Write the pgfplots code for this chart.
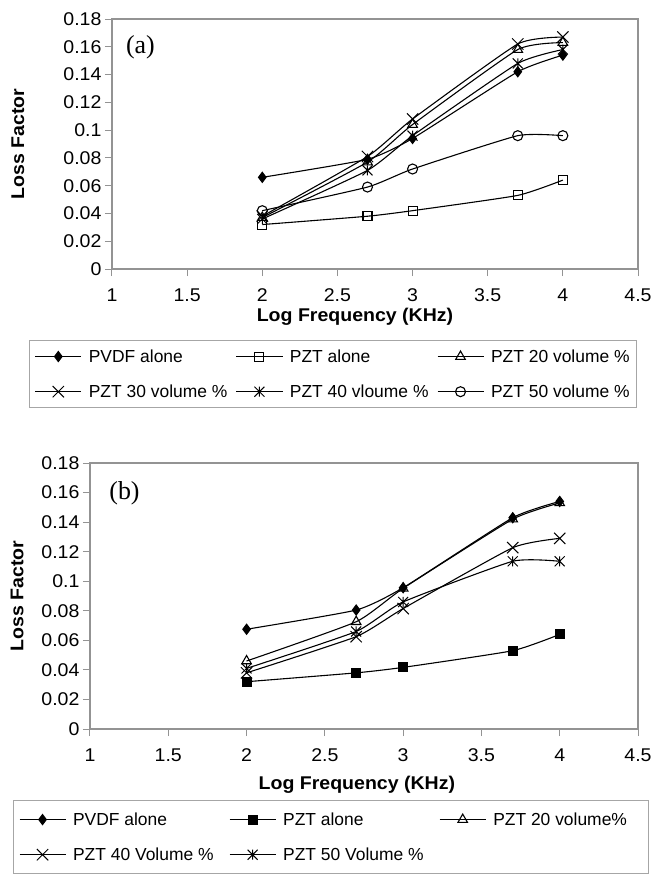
\documentclass[border=0pt]{standalone}
\usepackage{pgfplots}
\pgfplotsset{compat=1.18}
\usepackage{fontspec}
\setmainfont{Liberation Sans}
\newfontfamily\axfont[FakeStretch=1.06]{Liberation Sans}
\newfontfamily\panelfont{Liberation Serif}

\newcommand\tickfont{\axfont\fontsize{18.5}{21}\selectfont}
\newcommand\labfont{\axfont\fontsize{18.5}{21}\selectfont\bfseries}
\newcommand\legfont{\fontsize{17.5}{21}\selectfont}

% Excel style star: an x with a vertical bar
\pgfdeclareplotmark{xstar}{%
  \pgfpathmoveto{\pgfqpoint{-\pgfplotmarksize}{-\pgfplotmarksize}}%
  \pgfpathlineto{\pgfqpoint{\pgfplotmarksize}{\pgfplotmarksize}}%
  \pgfpathmoveto{\pgfqpoint{-\pgfplotmarksize}{\pgfplotmarksize}}%
  \pgfpathlineto{\pgfqpoint{\pgfplotmarksize}{-\pgfplotmarksize}}%
  \pgfpathmoveto{\pgfqpoint{0pt}{-\pgfplotmarksize}}%
  \pgfpathlineto{\pgfqpoint{0pt}{\pgfplotmarksize}}%
  \pgfusepathqstroke}

\pgfplotsset{
  lossaxis/.style={
    scale only axis, xmin=1, xmax=4.5, ymin=0, ymax=0.18,
    xtick={1,1.5,2,2.5,3,3.5,4,4.5},
    ytick={0,0.02,0.04,0.06,0.08,0.1,0.12,0.14,0.16,0.18},
    axis line style={draw=gray!85, line width=1.2bp},
    tick style={draw=gray!85, line width=1bp},
    tick align=outside, major tick length=7bp,
    xtick pos=bottom, ytick pos=left,
    scaled y ticks=false,
    yticklabel style={/pgf/number format/fixed, /pgf/number format/precision=2},
    xticklabel style={yshift=-9bp},
    /pgf/number format/assume math mode=true,
    ticklabel style={font=\tickfont},
    xlabel={Log Frequency (KHz)}, ylabel={Loss Factor},
    every axis plot/.append style={black, line width=1.1bp, smooth, tension=0.3,
      mark size=5bp, mark options={solid, line width=1bp}},
    legend columns=3, legend cell align=left,
    legend image code/.code={\draw[mark repeat=2,mark phase=2,##1]
      plot coordinates {(0bp,0bp) (23bp,0bp) (46bp,0bp)};},
    legend style={draw=gray!70, line width=1bp, font=\legfont,
      nodes={inner sep=2bp},
      /tikz/every odd column/.append style={column sep=5bp},
      /tikz/every even column/.append style={column sep=0bp}},
  }
}

\begin{document}
\begin{tikzpicture}
\useasboundingbox (-112bp,-607bp) rectangle (540bp,269bp);

% ---------- (a)
\begin{axis}[lossaxis, at={(0,0)}, anchor=south west,
  width=526bp, height=250bp,
  every axis y label/.style={at={(axis description cs:-0.179,0.5)}, rotate=90,
    anchor=center, font=\labfont},
  every axis x label/.style={at={(axis description cs:0.462,-0.192)},
    anchor=center, font=\labfont},
  legend style={at={(axis description cs:0.42,-0.284)}, anchor=north,
    row sep=17bp, inner xsep=5bp, inner ysep=7bp}]
\addplot[mark=diamond*, mark options={fill=black}] coordinates
  {(2,0.066) (2.7,0.079) (3,0.094) (3.7,0.142) (4,0.154)};
\addplot[mark=square, mark size=4.5bp, mark options={fill=white}] coordinates
  {(2,0.032) (2.7,0.038) (3,0.042) (3.7,0.053) (4,0.064)};
\addplot[mark=triangle, mark size=5.5bp, mark options={fill=white}] coordinates
  {(2,0.037) (2.7,0.077) (3,0.104) (3.7,0.158) (4,0.163)};
\addplot[mark=x, mark size=8bp] coordinates
  {(2,0.038) (2.7,0.081) (3,0.108) (3.7,0.162) (4,0.167)};
\addplot[mark=xstar, mark size=5bp] coordinates
  {(2,0.036) (2.7,0.071) (3,0.096) (3.7,0.148) (4,0.158)};
\addplot[mark=o, mark options={fill=white}] coordinates
  {(2,0.042) (2.7,0.059) (3,0.072) (3.7,0.096) (4,0.096)};
\legend{\makebox[145bp][l]{PVDF alone},\makebox[145bp][l]{PZT alone},
  \makebox[138bp][l]{PZT 20 volume \%},\makebox[145bp][l]{PZT 30 volume \%},
  \makebox[145bp][l]{PZT 40 vloume \%},\makebox[138bp][l]{PZT 50 volume \%}}
\node[anchor=west, font=\panelfont\fontsize{26}{28}\selectfont]
  at (axis description cs:0.02,0.888) {(a)};
\end{axis}

% ---------- (b)
\begin{axis}[lossaxis, at={(-22bp,-460bp)}, anchor=south west,
  width=548bp, height=266bp,
  every axis y label/.style={at={(axis description cs:-0.133,0.5)}, rotate=90,
    anchor=center, font=\labfont},
  every axis x label/.style={at={(axis description cs:0.487,-0.21)},
    anchor=center, font=\labfont},
  legend style={at={(axis description cs:0.44,-0.267)}, anchor=north,
    row sep=17bp, inner xsep=5bp, inner ysep=10bp}]
\addplot[mark=diamond*, mark options={fill=black}] coordinates
  {(2,0.0675) (2.7,0.0805) (3,0.0956) (3.7,0.143) (4,0.154)};
\addplot[mark=square*, mark size=4.5bp, mark options={fill=black}] coordinates
  {(2,0.032) (2.7,0.038) (3,0.0417) (3.7,0.053) (4,0.064)};
\addplot[mark=triangle, mark size=5.5bp, mark options={fill=white}] coordinates
  {(2,0.046) (2.7,0.0726) (3,0.0952) (3.7,0.142) (4,0.153)};
\addplot[mark=x, mark size=8bp] coordinates
  {(2,0.038) (2.7,0.0625) (3,0.0815) (3.7,0.1227) (4,0.129)};
\addplot[mark=xstar, mark size=5bp] coordinates
  {(2,0.041) (2.7,0.066) (3,0.086) (3.7,0.1135) (4,0.1135)};
\legend{\makebox[154bp][l]{PVDF alone},\makebox[154bp][l]{PZT alone},
  \makebox[148bp][l]{PZT 20 volume\%},\makebox[154bp][l]{PZT 40 Volume \%},
  \makebox[154bp][l]{PZT 50 Volume \%}}
\node[anchor=west, font=\panelfont\fontsize{26}{28}\selectfont]
  at (axis description cs:0.029,0.887) {(b)};
\end{axis}
\end{tikzpicture}
\end{document}
